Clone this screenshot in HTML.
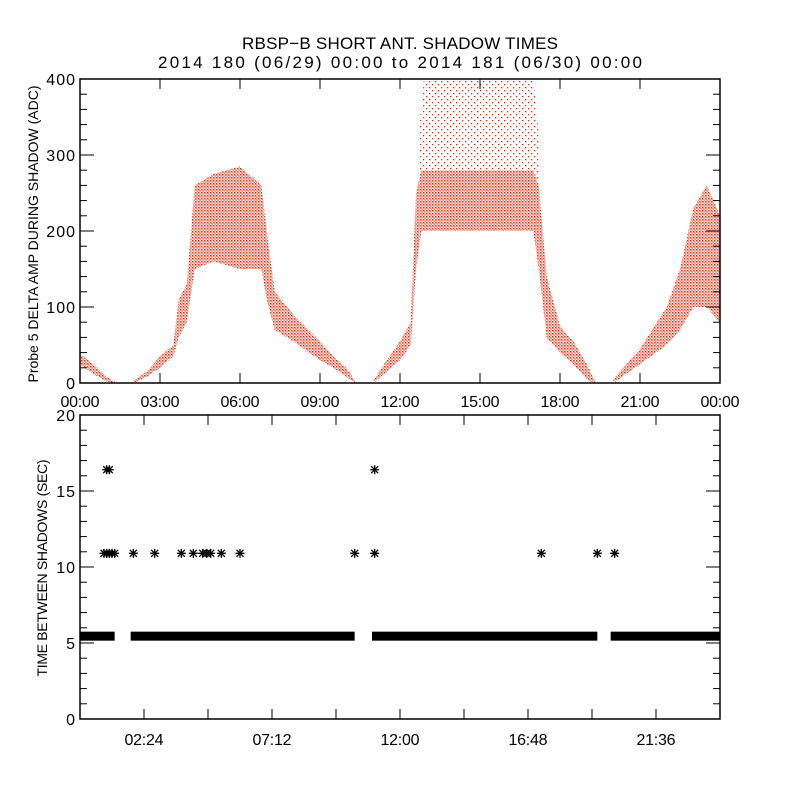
<!DOCTYPE html>
<html><head><meta charset="utf-8"><style>
body{margin:0;background:#fff;}
svg text{font-family:"Liberation Sans",sans-serif;fill:#000;}
</style></head><body>
<svg id="c" width="800" height="800" xmlns="http://www.w3.org/2000/svg">
<defs>
<pattern id="dots" width="3" height="3" patternUnits="userSpaceOnUse">
<rect x="0" y="0" width="1.5" height="1.5" fill="#ff2000"/>
<rect x="1.5" y="1.5" width="1.2" height="1.2" fill="#ff2000"/>
</pattern>
<pattern id="sparse" width="6" height="6" patternUnits="userSpaceOnUse">
<rect x="0" y="0" width="1.3" height="1.3" fill="#ff2000"/>
<rect x="3" y="3" width="1.3" height="1.3" fill="#ff2000"/>
</pattern>
</defs>
<text x="400" y="49" font-size="17" text-anchor="middle" textLength="316" lengthAdjust="spacing">RBSP−B SHORT ANT. SHADOW TIMES</text>
<text x="400" y="68" font-size="17" text-anchor="middle" textLength="484" lengthAdjust="spacing">2014 180 (06/29) 00:00 to 2014 181 (06/30) 00:00</text>
<g id="p1"></g>
<g id="p2"></g>
</svg>
<script>
// Top panel: amplitude bands (hours, low, high)
const segT = [
 [0,0.5,1.0,1.3],
 [2.0,2.5,3.0,3.5,3.7,4.0,4.3,5.0,6.0,6.8,7.0,7.3,8.0,9.0,9.5,10.0,10.3],
 [11.0,11.5,12.0,12.4,12.6,12.8,14.0,17.0,17.2,17.5,18.0,18.5,19.0,19.3],
 [20.0,21.0,22.0,22.5,23.0,23.5,24.0]
];
const segLo = [
 [25,12,2,0],
 [0,8,20,35,60,80,150,160,150,150,110,70,55,30,20,8,0],
 [0,15,30,50,150,200,200,200,150,60,40,25,5,0],
 [0,25,50,70,100,100,80]
];
const segHi = [
 [38,25,8,2],
 [3,15,35,50,110,130,260,275,285,260,200,120,90,55,35,20,3],
 [3,30,55,80,250,280,280,280,260,140,75,55,25,3],
 [5,45,100,150,230,260,220]
];
// sparse upper cloud in the noon pass
const sparseT = [12.7,12.9,14.0,17.0,17.2];
const sparseLo = [250,280,280,280,260];
const sparseHi = [330,400,400,400,330];
const ampTicks = [0,100,200,300,400];
const hourTickLabels = ["00:00","03:00","06:00","09:00","12:00","15:00","18:00","21:00","00:00"];
// Bottom panel
const bandStart = [0,1.9,10.95,19.9];
const bandEnd = [1.3,10.3,19.4,24];
const bandValue = 5.45;
const starT = [0.9,1.0,1.1,1.2,1.3,2.0,2.8,3.8,4.25,4.6,4.75,4.9,5.3,6.0,10.3,11.05,17.3,19.4,20.05,1.0,1.1,11.05];
const starV = [10.9,10.9,10.9,10.9,10.9,10.9,10.9,10.9,10.9,10.9,10.9,10.9,10.9,10.9,10.9,10.9,10.9,10.9,10.9,16.4,16.4,16.4];
const intTicks = [0,5,10,15,20];
const intTickLabels = ["02:24","07:12","12:00","16:48","21:36"];

const NS="http://www.w3.org/2000/svg";
function mk(tag,attrs,parent){const e=document.createElementNS(NS,tag);for(const k in attrs)e.setAttribute(k,attrs[k]);parent.appendChild(e);return e;}
const L=80,R=720;
const x=t=>L+(R-L)*t/24;
const y1=v=>383-(383-79)*v/400;
const y2=v=>719-(719-415)*v/20;

const p1=document.getElementById('p1');
function band(T,Lo,Hi,fill,name){
  let pts=[];
  for(let i=0;i<T.length;i++)pts.push(x(T[i])+','+y1(Hi[i]));
  for(let i=T.length-1;i>=0;i--)pts.push(x(T[i])+','+y1(Lo[i]));
  const pg=mk('polygon',{points:pts.join(' '),fill:fill},p1);
  
  
}
for(let s=0;s<segT.length;s++)band(segT[s],segLo[s],segHi[s],'url(#dots)','amplitude-band-'+s);
band(sparseT,sparseLo,sparseHi,'url(#sparse)','amplitude-sparse-band');
const f1=mk('rect',{x:L,y:79,width:R-L,height:304,fill:'none',stroke:'#000','stroke-width':1.5},p1);


for(let v=0;v<=400;v+=20){const len=(v%100===0)?14:7;mk('line',{x1:L,x2:L+len,y1:y1(v),y2:y1(v),stroke:'#000'},p1);mk('line',{x1:R,x2:R-len,y1:y1(v),y2:y1(v),stroke:'#000'},p1);}
ampTicks.forEach(v=>{const t=mk('text',{x:L-4,y:y1(v)+6,'font-size':16,'text-anchor':'end','letter-spacing':1},p1);t.textContent=v;

});
for(let i=0;i<hourTickLabels.length;i++){const h=i*3;
 mk('line',{x1:x(h),x2:x(h),y1:383,y2:373,stroke:'#000'},p1);mk('line',{x1:x(h),x2:x(h),y1:79,y2:89,stroke:'#000'},p1);
 const t=mk('text',{x:x(h),y:407,'font-size':16,'text-anchor':'middle',textLength:39,lengthAdjust:'spacing'},p1);t.textContent=hourTickLabels[i];
 
 }
const yt1=mk('text',{x:0,y:0,'font-size':14,'text-anchor':'middle',transform:'translate(38,234) rotate(-90)',textLength:297,lengthAdjust:'spacing'},p1);
yt1.textContent='Probe 5 DELTA AMP DURING SHADOW (ADC)';



const p2=document.getElementById('p2');
for(let i=0;i<bandStart.length;i++){
 const r=mk('rect',{x:x(bandStart[i]),y:y2(bandValue)-4.5,width:x(bandEnd[i])-x(bandStart[i]),height:9,fill:'#000'},p2);
 
 }
for(let i=0;i<starT.length;i++){
 const cx=x(starT[i]),cy=y2(starV[i]);
 const g=mk('path',{d:`M${cx-4.5},${cy}H${cx+4.5}M${cx},${cy-4.5}V${cy+4.5}M${cx-3.5},${cy-3.5}L${cx+3.5},${cy+3.5}M${cx-3.5},${cy+3.5}L${cx+3.5},${cy-3.5}`,stroke:'#000','stroke-width':1.3},p2);
 
 }
const f2=mk('rect',{x:L,y:415,width:R-L,height:304,fill:'none',stroke:'#000','stroke-width':1.5},p2);


for(let v=0;v<=20;v++){const len=(v%5===0)?14:7;mk('line',{x1:L,x2:L+len,y1:y2(v),y2:y2(v),stroke:'#000'},p2);mk('line',{x1:R,x2:R-len,y1:y2(v),y2:y2(v),stroke:'#000'},p2);}
intTicks.forEach(v=>{const t=mk('text',{x:L-4,y:y2(v)+6,'font-size':16,'text-anchor':'end','letter-spacing':1},p2);t.textContent=v;

});
for(let k=0;k<=10;k++){const h=k*2.4;
 mk('line',{x1:x(h),x2:x(h),y1:719,y2:709,stroke:'#000'},p2);mk('line',{x1:x(h),x2:x(h),y1:415,y2:425,stroke:'#000'},p2);}
for(let i=0;i<intTickLabels.length;i++){const h=2.4+i*4.8;
 const t=mk('text',{x:x(h),y:745,'font-size':16,'text-anchor':'middle',textLength:39,lengthAdjust:'spacing'},p2);t.textContent=intTickLabels[i];
 
 }
const yt2=mk('text',{x:0,y:0,'font-size':14,'text-anchor':'middle',transform:'translate(47,568) rotate(-90)',textLength:217,lengthAdjust:'spacing'},p2);
yt2.textContent='TIME BETWEEN SHADOWS (SEC)';


</script>
</body></html>
